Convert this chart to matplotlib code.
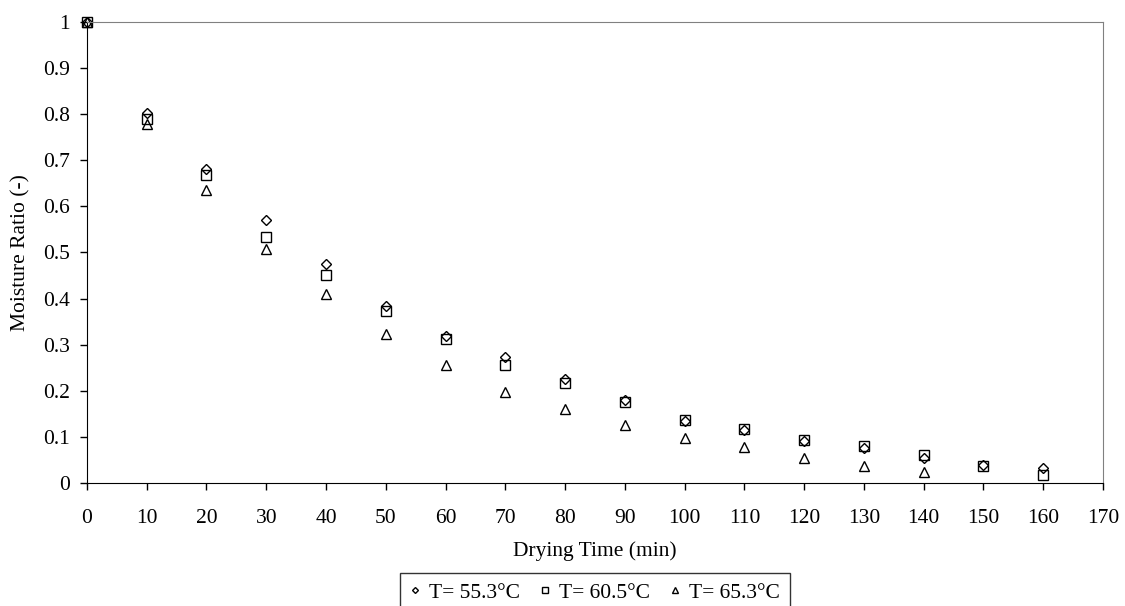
import matplotlib.pyplot as plt

plt.rcParams['font.family'] = ['Liberation Serif', 'DejaVu Serif']

# Drying time (min)
t55 = [0, 10, 20, 30, 40, 50, 60, 70, 80, 90, 100, 110, 120, 130, 140, 150, 160]
t60 = [0, 10, 20, 30, 40, 50, 60, 70, 80, 90, 100, 110, 120, 130, 140, 150, 160]
t65 = [0, 10, 20, 30, 40, 50, 60, 70, 80, 90, 100, 110, 120, 130, 140]

# Moisture ratio
mr55 = [1.0, 0.803, 0.681, 0.571, 0.476, 0.383, 0.318, 0.273, 0.226, 0.181, 0.135,
        0.114, 0.091, 0.075, 0.055, 0.040, 0.032]
mr60 = [1.0, 0.790, 0.669, 0.534, 0.452, 0.372, 0.313, 0.255, 0.216, 0.175, 0.136,
        0.118, 0.093, 0.080, 0.060, 0.036, 0.017]
mr65 = [1.0, 0.778, 0.636, 0.507, 0.410, 0.323, 0.257, 0.197, 0.160, 0.125, 0.097,
        0.077, 0.055, 0.036, 0.023]

labels = ['T= 55.3°C', 'T= 60.5°C', 'T= 65.3°C']

fig = plt.figure(figsize=(11.25, 6.06), dpi=100)
ax = fig.add_axes([0.0773, 0.203, 0.9031, 0.7607])

ax.plot(t55, mr55, 'D', ms=5, mfc='none', mec='black', mew=1, label=labels[0], clip_on=False)
ax.plot(t60, mr60, 's', ms=6.5, mfc='none', mec='black', mew=1, label=labels[1], clip_on=False)
ax.plot(t65, mr65, '^', ms=6.5, mfc='none', mec='black', mew=1, label=labels[2], clip_on=False)

ax.set_xlim(0, 170)
ax.set_ylim(0, 1)
ax.set_xticks(range(0, 171, 10))
ax.set_yticks([i / 10 for i in range(11)])
ax.set_yticklabels(['0', '0.1', '0.2', '0.3', '0.4', '0.5', '0.6', '0.7', '0.8', '0.9', '1'])
ax.tick_params(labelsize=15.5, direction='out', length=5, width=1)
ax.tick_params(axis='x', pad=14)
ax.tick_params(axis='y', pad=7)

for s in ['top', 'right']:
    ax.spines[s].set_color('#808080')
for s in ['left', 'bottom']:
    ax.spines[s].set_color('black')

ax.set_xlabel('Drying Time (min)', fontsize=15.5, labelpad=9)
ax.set_ylabel('Moisture Ratio (-)', fontsize=15.5, labelpad=9)

leg = ax.legend(loc='upper center', bbox_to_anchor=(0.5, -0.195), ncol=3, fontsize=15.5,
                frameon=True, fancybox=False, edgecolor='black', handlelength=0.5,
                handletextpad=0.4, columnspacing=0.9, markerscale=0.6,
                borderpad=0.45, borderaxespad=0)
leg.get_frame().set_linewidth(1)

fig.savefig('out.png', dpi=100)
